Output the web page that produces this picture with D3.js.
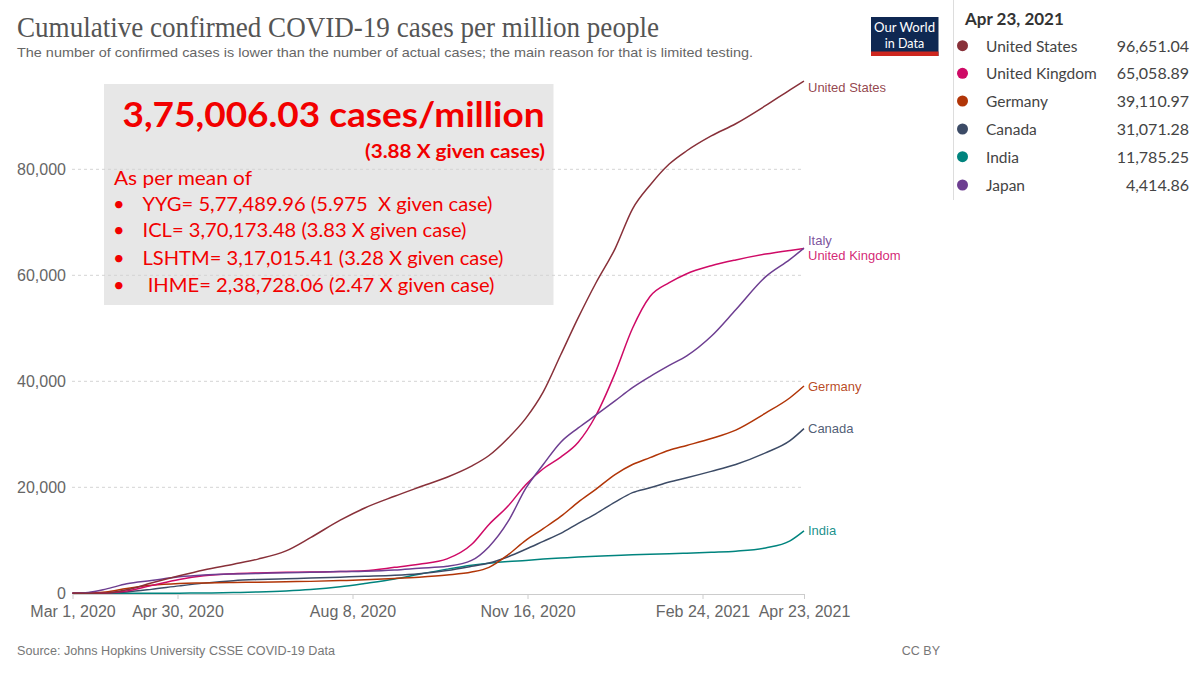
<!DOCTYPE html>
<html><head><meta charset="utf-8">
<script src="https://cdn.jsdelivr.net/npm/d3@7"></script>
<style>body{margin:0;background:#fff;overflow:hidden}</style>
</head><body><svg id="c" width="1200" height="675"></svg>
<script>
const dates = ["2020-03-01","2020-03-10","2020-03-20","2020-04-01","2020-04-15","2020-05-01","2020-05-15","2020-06-01","2020-06-15","2020-07-01","2020-07-15","2020-08-01","2020-08-15","2020-09-01","2020-09-15","2020-10-01","2020-10-15","2020-10-25","2020-11-05","2020-11-15","2020-11-25","2020-12-05","2020-12-15","2020-12-25","2021-01-05","2021-01-15","2021-01-25","2021-02-05","2021-02-15","2021-03-01","2021-03-15","2021-04-01","2021-04-15","2021-04-23"];
const unitedStates = [0,3,60,650,1930,3300,4400,5500,6450,8000,10500,13800,16100,18300,20000,21900,24000,26000,29300,33000,38000,45000,52000,58500,65000,72500,77000,81000,83500,86300,88600,92000,95000,96651];
const unitedKingdom = [0,5,60,440,1450,2600,3300,3700,3850,3950,4000,4100,4250,4900,5500,6500,9200,13000,16500,20500,23500,25700,28500,33500,41500,50000,56000,58600,60300,61800,62900,64000,64700,65059];
const italy = [20,170,790,1800,2400,3100,3450,3650,3750,3900,3980,4100,4180,4400,4740,5100,6200,8800,13600,19800,24300,28500,31200,33600,36300,38800,40900,43000,44800,48500,53500,59700,63000,65120];
const germany = [2,15,230,900,1500,1850,1950,2050,2100,2180,2250,2400,2550,2800,3050,3450,4000,4900,7300,10000,12200,14500,17200,19600,22400,24300,25600,27000,27900,29200,30800,34000,36900,39111];
const canada = [0,2,25,250,740,1400,1920,2390,2600,2750,2880,3050,3200,3400,3700,4300,5080,5700,6900,8300,9800,11300,13200,15000,17200,19000,19900,21000,21800,23000,24300,26500,28800,31071];
const india = [0,0,0.2,1.4,9,27,60,140,240,430,700,1220,1840,2680,3590,4560,5300,5690,6000,6200,6450,6650,6850,7000,7150,7280,7380,7480,7580,7750,7950,8550,9900,11785];

const xTickDates = ["2020-03-01","2020-04-30","2020-08-08","2020-11-16","2021-02-24","2021-04-23"];
const yTicks = [0,20000,40000,60000,80000];

const legendDate = "Apr 23, 2021";
const legendNames = ["United States","United Kingdom","Germany","Canada","India","Japan"];
const legendValues = ["96,651.04","65,058.89","39,110.97","31,071.28","11,785.25","4,414.86"];
const legendColors = ["#883039","#CF0A66","#B13507","#3C4B66","#00847E","#6D3E91"];

const seriesNames = ["United States","Italy","United Kingdom","Germany","Canada","India"];
const seriesValues = [unitedStates, italy, unitedKingdom, germany, canada, india];
const seriesColors = ["#883039","#6D3E91","#CF0A66","#B13507","#3C4B66","#00847E"];

const boxHeadline = "3,75,006.03 cases/million";
const boxSub = "(3.88 X given cases)";
const boxIntro = "As per mean of";
const boxItems = ["YYG= 5,77,489.96 (5.975  X given case)","ICL= 3,70,173.48 (3.83 X given case)","LSHTM= 3,17,015.41 (3.28 X given case)"," IHME= 2,38,728.06 (2.47 X given case)"];

const parse = d3.utcParse("%Y-%m-%d");
const svg = d3.select("#c");

function fit(sel, w){
  const n = sel.node();
  const L = n.getComputedTextLength();
  if (Math.abs(L-w) > 1) sel.attr("textLength", w).attr("lengthAdjust","spacingAndGlyphs");
  return sel;
}

const x = d3.scaleUtc().domain([parse(dates[0]), parse(dates[dates.length-1])]).range([72.5, 804]);
const y = d3.scaleLinear().domain([0, 80000]).range([593.3, 169.3]);

// Title & subtitle
fit(svg.append("text").attr("x",17).attr("y",37).attr("font-family","Liberation Serif, serif")
  .attr("font-size",29).attr("fill","#555").text("Cumulative confirmed COVID-19 cases per million people"), 642);
fit(svg.append("text").attr("x",17).attr("y",57).attr("font-family","Liberation Sans, Arial, sans-serif")
  .attr("font-size",13.5).attr("fill","#666").text("The number of confirmed cases is lower than the number of actual cases; the main reason for that is limited testing."), 736);

// Logo
const logo = svg.append("g");
logo.append("rect").attr("x",871).attr("y",17).attr("width",67.5).attr("height",39).attr("fill","#0F2852");
logo.append("rect").attr("x",871).attr("y",51.5).attr("width",67.5).attr("height",4.5).attr("fill","#CE261E");
fit(logo.append("text").attr("x",874).attr("y",32).attr("font-family","Lato, sans-serif").attr("font-size",12.5).attr("fill","#fff").text("Our World"), 61);
logo.append("text").attr("x",904.5).attr("y",47.5).attr("text-anchor","middle").attr("font-family","Lato, sans-serif").attr("font-size",12.5).attr("fill","#fff").text("in Data");

// Annotation box background
svg.append("rect").attr("x",104).attr("y",84).attr("width",449.5).attr("height",221).attr("fill","#E7E7E7");

// Gridlines
svg.append("g").selectAll("line").data(yTicks.filter(d=>d>0)).join("line")
  .attr("x1",72).attr("x2",802).attr("y1",d=>y(d)).attr("y2",d=>y(d))
  .attr("stroke","#d4d4d4").attr("stroke-dasharray","3,3").attr("stroke-width",1);

// Y axis labels
svg.append("g").selectAll("text").data(yTicks).join("text")
  .attr("x",66).attr("y",d=>y(d)+5.5).attr("text-anchor","end")
  .attr("font-family","Liberation Sans, Arial, sans-serif").attr("font-size",16).attr("fill","#666")
  .text(d=>d3.format(",")(d));

// X axis
const xAxis = d3.axisBottom(x).tickValues(xTickDates.map(parse)).tickFormat(d3.utcFormat("%b %-d, %Y")).tickSize(5).tickSizeOuter(0);
const gx = svg.append("g").attr("transform","translate(0,594)").call(xAxis);
gx.select(".domain").attr("stroke","#ccc");
gx.selectAll(".tick line").attr("stroke","#ccc");
gx.selectAll(".tick text").attr("font-family","Liberation Sans, Arial, sans-serif").attr("font-size",16).attr("fill","#666").attr("dy","0.95em");

// Lines
const line = d3.line().x(d=>x(d.date)).y(d=>y(d.value)).curve(d3.curveMonotoneX);
const series = seriesNames.map((name,i)=>({name, color: seriesColors[i],
  values: dates.map((d,j)=>({date: parse(d), value: seriesValues[i][j]}))}));
svg.append("g").selectAll("path").data(series.slice().reverse()).join("path")
  .attr("d",d=>line(d.values)).attr("fill","none").attr("stroke",d=>d.color).attr("stroke-width",1.5);

// Line labels with simple collision resolution
const labels = series.map(s=>({name:s.name,color:s.color,c:y(s.values[s.values.length-1].value)}));
labels.sort((a,b)=>a.c-b.c);
for (let it=0; it<50; it++){
  for (let i=1;i<labels.length;i++){
    const gap = labels[i].c - labels[i-1].c;
    if (gap < 15){ const m=(15-gap)/2; labels[i].c+=m; labels[i-1].c-=m; }
  }
  if (labels[0].c < 87) labels[0].c = 87;
}
svg.append("g").selectAll("text").data(labels).join("text")
  .attr("x",808).attr("y",d=>d.c+4.5).attr("font-family","Liberation Sans, Arial, sans-serif")
  .attr("font-size",13).attr("fill",d=>d.color).attr("fill-opacity",0.9).text(d=>d.name);

// Annotation text
const red = "#F20000";
const ann = svg.append("g").attr("font-family","Lato, sans-serif").attr("fill",red);
fit(ann.append("text").attr("x",122.5).attr("y",126.5).attr("font-size",35).attr("font-weight","bold").text(boxHeadline), 422);
fit(ann.append("text").attr("x",365).attr("y",158).attr("font-size",19.5).attr("font-weight","bold").text(boxSub), 180);
fit(ann.append("text").attr("x",114).attr("y",184.5).attr("font-size",20).text(boxIntro), 138);
const itemY = [210.5, 237, 264.5, 292];
const itemW = [350, 324, 361, 352];
boxItems.forEach((t,i)=>{
  ann.append("text").attr("x",113).attr("y",itemY[i]).attr("font-size",20).text("•");
  fit(ann.append("text").attr("x",142.5).attr("y",itemY[i]).attr("font-size",20).style("white-space","pre").text(t), itemW[i]);
});

// Footer
fit(svg.append("text").attr("x",17).attr("y",655).attr("font-family","Liberation Sans, Arial, sans-serif")
  .attr("font-size",12.5).attr("fill","#777").text("Source: Johns Hopkins University CSSE COVID-19 Data"), 318);
svg.append("text").attr("x",940).attr("y",655).attr("text-anchor","end").attr("font-family","Liberation Sans, Arial, sans-serif")
  .attr("font-size",12.5).attr("fill","#777").text("CC BY");

// Legend panel (tooltip)
const lg = svg.append("g");
lg.append("rect").attr("x",953).attr("y",0).attr("width",247).attr("height",200).attr("fill","#fff");
lg.append("line").attr("x1",953.5).attr("x2",953.5).attr("y1",0).attr("y2",200).attr("stroke","#ddd");
lg.append("text").attr("x",965).attr("y",24.5).attr("font-family","Lato, sans-serif").attr("font-weight","bold")
  .attr("font-size",17).attr("fill","#333").text(legendDate);
const rowY = [45.7,73.3,101,129,156.7,185];
const rows = lg.selectAll("g.row").data(legendNames).join("g").attr("class","row")
  .attr("transform",(d,i)=>`translate(0,${rowY[i]})`);
rows.append("circle").attr("cx",962.5).attr("cy",0).attr("r",5.5).attr("fill",(d,i)=>legendColors[i]);
rows.append("text").attr("x",986).attr("y",5.8).attr("font-family","Lato, sans-serif").attr("font-size",15.5).attr("fill","#444").text(d=>d);
rows.append("text").attr("x",1189).attr("y",5.8).attr("text-anchor","end").attr("font-family","Lato, sans-serif").attr("font-size",16).attr("fill","#444").text((d,i)=>legendValues[i]);
</script>
</body></html>
